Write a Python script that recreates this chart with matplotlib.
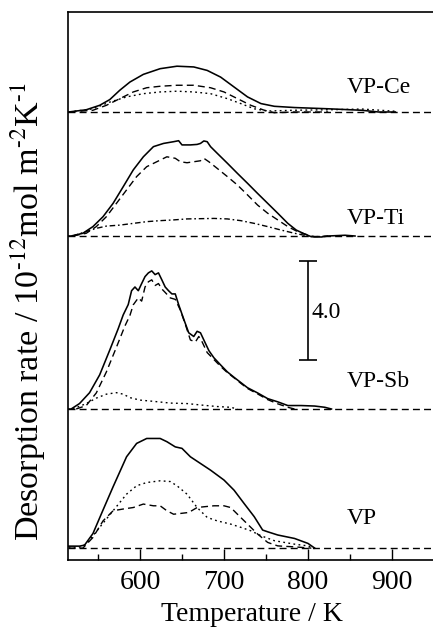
import numpy as np
import matplotlib.pyplot as plt

plt.rcParams['font.family'] = ['Liberation Serif', 'DejaVu Serif']
plt.rcParams['mathtext.fontset'] = 'stix'

# ---- data (rate above each panel's baseline, 1e-12 mol m-2 K-1)
# VP
vp_solid_t = [515, 528, 534, 544, 556, 568, 584, 596, 608, 624, 632, 642, 650, 660, 672,
              684, 700, 712, 724, 736, 746, 752, 764, 784, 800, 808]
vp_solid = [0.08, 0.08, 0.12, 0.59, 1.54, 2.48, 3.69, 4.23, 4.43, 4.43, 4.30, 4.09, 4.03, 3.69, 3.42,
            3.15, 2.75, 2.34, 1.80, 1.27, 0.73, 0.66, 0.53, 0.39, 0.19, 0.0]
vp_dash_t = [515, 532, 544, 556, 568, 580, 592, 604, 616, 624, 632, 640, 648, 658, 668, 676,
             688, 700, 708, 716, 728, 740, 752, 764, 784, 804]
vp_dash = [0.0, 0.0, 0.43, 1.10, 1.51, 1.58, 1.64, 1.78, 1.71, 1.71, 1.51, 1.37, 1.40, 1.44, 1.64, 1.67,
           1.71, 1.71, 1.64, 1.37, 0.97, 0.57, 0.23, 0.09, 0.05, 0.0]
vp_dot_t = [515, 528, 536, 552, 568, 584, 596, 608, 624, 636, 644, 656, 668, 680, 692, 708,
            720, 732, 744, 760, 784, 800, 808]
vp_dot = [0.04, 0.04, 0.16, 0.84, 1.51, 2.18, 2.52, 2.65, 2.72, 2.69, 2.52, 2.18, 1.64, 1.24, 1.10, 0.97,
          0.84, 0.70, 0.50, 0.30, 0.16, 0.09, 0.0]

# VP-Sb
sb_solid_t = [515, 518, 528, 540, 552, 564, 574, 580, 586, 590, 594, 598, 602, 606, 610, 614, 618, 622,
              626, 630, 634, 638, 642, 646, 652, 658, 664, 668, 672, 676, 682, 688, 696, 704, 712, 720,
              728, 740, 752, 764, 776, 792, 808, 820, 828]
sb_solid = [0, 0, 0.22, 0.66, 1.38, 2.38, 3.24, 3.80, 4.22, 4.78, 4.93, 4.78, 5.07, 5.35, 5.50, 5.58, 5.43, 5.50,
            5.22, 4.93, 4.78, 4.65, 4.65, 4.22, 3.64, 3.08, 2.93, 3.14, 3.08, 2.79, 2.36, 2.07, 1.78, 1.50, 1.28, 1.07,
            0.86, 0.65, 0.42, 0.29, 0.14, 0.14, 0.12, 0.07, 0]
sb_dash_t = [524, 536, 548, 560, 572, 582, 588, 592, 598, 602, 606, 610, 614, 618, 622, 626, 630, 636, 642,
             648, 654, 660, 666, 670, 674, 680, 688, 696, 704, 712, 720, 728, 740, 752, 764, 776, 784]
sb_dash = [0, 0.14, 0.65, 1.50, 2.50, 3.35, 3.78, 4.21, 4.49, 4.36, 4.93, 5.14, 5.22, 4.99, 5.07, 4.85, 4.71, 4.49, 4.43,
           4.00, 3.42, 2.79, 2.71, 2.93, 2.71, 2.28, 2.00, 1.72, 1.47, 1.26, 1.04, 0.83, 0.61, 0.38, 0.21, 0.07, 0]
sb_dot_t = [520, 536, 548, 560, 572, 580, 588, 600, 616, 636, 656, 676, 692, 708, 716]
sb_dot = [0, 0.22, 0.44, 0.60, 0.66, 0.60, 0.46, 0.36, 0.31, 0.24, 0.22, 0.15, 0.10, 0.07, 0]

# VP-Ti
ti_solid_t = [515, 518, 532, 544, 556, 568, 580, 592, 604, 616, 628, 640, 646, 650, 660, 668, 672, 676,
              680, 684, 692, 704, 716, 728, 740, 752, 764, 776, 786, 796, 804, 816, 824, 844, 856]
ti_solid = [0, 0, 0.11, 0.38, 0.78, 1.32, 1.99, 2.67, 3.20, 3.61, 3.74, 3.81, 3.85, 3.68, 3.68, 3.70, 3.74, 3.84,
            3.81, 3.61, 3.34, 2.94, 2.53, 2.13, 1.72, 1.32, 0.92, 0.51, 0.24, 0.08, -0.03, -0.04, 0, 0.03, 0]
ti_dash_t = [520, 536, 548, 560, 572, 584, 596, 608, 620, 632, 642, 648, 656, 664, 672, 676,
             682, 692, 704, 716, 728, 740, 752, 764, 776, 788, 800, 808, 824]
ti_dash = [0, 0.11, 0.38, 0.78, 1.32, 1.86, 2.40, 2.80, 3.00, 3.20, 3.14, 3.00, 2.96, 3.00, 3.04, 3.14,
           3.00, 2.73, 2.40, 2.06, 1.66, 1.25, 0.92, 0.65, 0.38, 0.17, 0.04, -0.03, 0]
ti_dd_t = [520, 536, 548, 560, 576, 592, 608, 624, 640, 656, 672, 688, 704, 720, 736, 752, 768, 784, 800]
ti_dd = [0, 0.18, 0.31, 0.40, 0.44, 0.51, 0.58, 0.62, 0.65, 0.69, 0.70, 0.71, 0.69, 0.62, 0.51, 0.38, 0.24, 0.11, 0]

# VP-Ce
ce_solid_t = [515, 536, 552, 564, 576, 588, 604, 624, 644, 664, 680, 696, 712, 728, 744, 760, 784, 824, 864, 884, 904]
ce_solid = [0, 0.09, 0.27, 0.50, 0.88, 1.21, 1.52, 1.75, 1.85, 1.82, 1.68, 1.41, 1.01, 0.61, 0.34, 0.23, 0.18,
            0.13, 0.07, 0, 0]
ce_dash_t = [516, 544, 560, 576, 592, 608, 624, 644, 664, 684, 700, 716, 732, 748, 760, 784, 824]
ce_dash = [0, 0.07, 0.27, 0.54, 0.81, 0.98, 1.04, 1.08, 1.08, 0.98, 0.81, 0.54, 0.27, 0.07, -0.03, 0, 0]
ce_dot_t = [516, 544, 564, 584, 604, 624, 644, 664, 684, 704, 720, 736, 752, 784, 824, 864, 904]
ce_dot = [0, 0.13, 0.40, 0.61, 0.74, 0.81, 0.84, 0.81, 0.74, 0.54, 0.34, 0.13, 0.04, 0.07, 0.09, 0.12, 0.03]

panels = ['VP', 'VP-Sb', 'VP-Ti', 'VP-Ce']
scale_value = 4.0

# ---- layout
offsets = {'VP': 0.48, 'VP-Sb': 6.10, 'VP-Ti': 13.09, 'VP-Ce': 18.10}
label_y = {'VP': 1.18, 'VP-Sb': 1.12, 'VP-Ti': 0.72, 'VP-Ce': 0.97}

DASH = (0, (5.0, 3.0))
DOT = (0, (1.3, 2.4))
DASHDOT = (0, (4.0, 2.0, 1.2, 2.0))

series = {
    'VP': [(vp_solid_t, vp_solid, '-'), (vp_dash_t, vp_dash, DASH), (vp_dot_t, vp_dot, DOT)],
    'VP-Sb': [(sb_solid_t, sb_solid, '-'), (sb_dash_t, sb_dash, DASH), (sb_dot_t, sb_dot, DOT)],
    'VP-Ti': [(ti_solid_t, ti_solid, '-'), (ti_dash_t, ti_dash, DASH), (ti_dd_t, ti_dd, DASHDOT)],
    'VP-Ce': [(ce_solid_t, ce_solid, '-'), (ce_dash_t, ce_dash, DASH), (ce_dot_t, ce_dot, DOT)],
}

fig = plt.figure(figsize=(4.33, 6.30), dpi=100)
ax = fig.add_axes([68 / 433, 70 / 630, 368 / 433, 548 / 630])
xmin, xmax = 514.3, 952.4
ax.set_xlim(xmin, xmax)
ax.set_ylim(0, 22.14)

for name in panels:
    off = offsets[name]
    ax.plot([xmin, xmax], [off, off], color='black', lw=1.0, linestyle=DASH)
    for t, v, ls in series[name]:
        lw = 1.15 if ls == '-' else 1.0
        ax.plot(t, np.array(v) + off, color='black', lw=lw, linestyle=ls)
    ax.text(846, off + label_y[name], name, fontsize=17, ha='left', va='center')

# scale bar
ax.errorbar(800, 10.08, yerr=scale_value / 2, color='black', lw=1.2, capsize=6.7, capthick=1.2)
ax.text(804, 10.0, '%.1f' % scale_value, fontsize=17, ha='left', va='center')

ax.set_xticks([600, 700, 800, 900])
ax.set_xticks([550, 650, 750, 850], minor=True)
ax.tick_params(axis='x', which='major', direction='in', length=8, width=1, labelsize=20, pad=7)
ax.tick_params(axis='x', which='minor', direction='in', length=4.5, width=1)
ax.set_yticks([])
for s in ax.spines.values():
    s.set_linewidth(1.2)

ax.set_xlabel('Temperature / K', fontsize=20, labelpad=5)
ax.set_ylabel(r'Desorption rate / 10$^{\text{-12}}$mol m$^{\text{-2}}$K$^{\text{-1}}$', fontsize=24.5)
ax.yaxis.set_label_coords(-0.055, 0.453)

fig.savefig('out.png', dpi=100)
